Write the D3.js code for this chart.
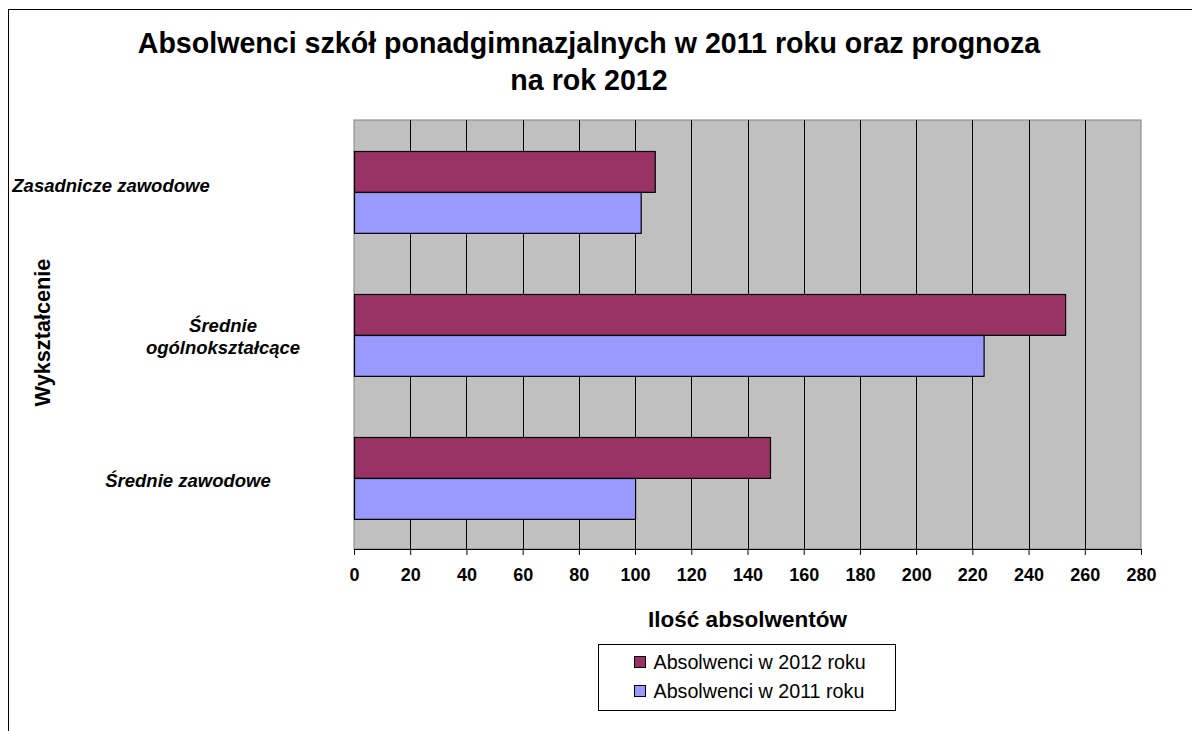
<!DOCTYPE html>
<html>
<head>
<meta charset="utf-8">
<script src="https://cdn.jsdelivr.net/npm/d3@7"></script>
<style>
    body { margin: 0; background: #fff; }
    text { font-family: "Liberation Sans", Arial, sans-serif; }
</style>
</head>
<body>
<div id="chart"></div>
<script>
// data
let categories = ["Zasadnicze zawodowe", "Średnie ogólnokształcące", "Średnie zawodowe"];
let seriesNames = ["Absolwenci w 2012 roku", "Absolwenci w 2011 roku"];
let values2012 = [107, 253, 148];
let values2011 = [102, 224, 100];
let xTicks = [0, 20, 40, 60, 80, 100, 120, 140, 160, 180, 200, 220, 240, 260, 280];

let colors = ["#993366", "#9999FF"];

// category labels as Excel laid them out (wrapped lines, centre x, vertical nudge)
let labelLines = [["Zasadnicze zawodowe"], ["Średnie", "ogólnokształcące"], ["Średnie zawodowe"]];
let labelCx = [111, 223, 188];
let labelDy = [-6, 2, 3];

let width = 1192, height = 731;
let margin = {top: 120, right: 51, bottom: 182, left: 354};
let innerW = width - margin.left - margin.right;
let innerH = height - margin.top - margin.bottom;

let svg = d3.select("#chart").append("svg")
    .attr("width", width)
    .attr("height", height);

// outer chart border (runs off the page)
svg.append("rect")
    .attr("x", 8.5).attr("y", 9.5)
    .attr("width", 1300).attr("height", 900)
    .attr("fill", "#fff")
    .attr("stroke", "#000");

// title
let title = svg.append("text")
    .attr("x", 589)
    .attr("text-anchor", "middle")
    .attr("font-size", "28.6px")
    .attr("font-weight", "bold");
title.append("tspan").attr("x", 589).attr("y", 53).text("Absolwenci szkół ponadgimnazjalnych w 2011 roku oraz prognoza");
title.append("tspan").attr("x", 589).attr("y", 90).text("na rok 2012");

let g = svg.append("g")
    .attr("transform", `translate(${margin.left}, ${margin.top})`);

// scales
let x = d3.scaleLinear()
    .domain([0, 280])
    .range([0, innerW]);

let y0 = d3.scaleBand()
    .domain(categories)
    .range([0, innerH])
    .padding(0);

let y1 = d3.scaleBand()
    .domain(seriesNames)
    .range([0, y0.bandwidth()])
    .paddingInner(0)
    .paddingOuter(0.75);

// plot background
g.append("rect")
    .attr("width", innerW)
    .attr("height", innerH)
    .attr("fill", "#C0C0C0")
    .attr("stroke", "#808080");

// vertical grid lines
g.selectAll(".grid")
    .data(xTicks.slice(1, -1))
    .enter()
    .append("line")
    .attr("class", "grid")
    .attr("x1", d => Math.round(x(d)) + 0.5)
    .attr("x2", d => Math.round(x(d)) + 0.5)
    .attr("y1", 0)
    .attr("y2", innerH)
    .attr("stroke", "#000");

// bars
let rows = categories.map((c, i) => ({cat: c, vals: [values2012[i], values2011[i]]}));

let groups = g.selectAll(".cat")
    .data(rows)
    .enter()
    .append("g")
    .attr("class", "cat")
    .attr("transform", d => `translate(0, ${y0(d.cat)})`);

groups.selectAll("rect")
    .data(d => d.vals.map((v, j) => ({series: seriesNames[j], value: v, j: j})))
    .enter()
    .append("rect")
    .attr("x", 0.5)
    .attr("y", d => Math.round(y1(d.series)) + 0.5)
    .attr("width", d => x(d.value))
    .attr("height", y1.bandwidth())
    .attr("fill", d => colors[d.j])
    .attr("stroke", "#000")
    .attr("stroke-width", 1.2);

// x axis
let xAxis = d3.axisBottom(x)
    .tickValues(xTicks)
    .tickSize(6)
    .tickPadding(13);

let xAxisGroup = g.append("g")
    .attr("class", "x-axis")
    .attr("transform", `translate(0, ${innerH})`)
    .call(xAxis);

xAxisGroup.select(".domain").attr("stroke", "#000");
xAxisGroup.selectAll(".tick line").attr("stroke", "#000");
xAxisGroup.selectAll(".tick text")
    .attr("font-family", "'Liberation Sans', Arial, sans-serif")
    .attr("font-size", "18px")
    .attr("font-weight", "bold")
    .attr("fill", "#000");

// category labels
labelLines.forEach((lines, i) => {
    let cy = y0(categories[i]) + y0.bandwidth() / 2 + margin.top + labelDy[i];
    let t = svg.append("text")
        .attr("text-anchor", "middle")
        .attr("font-size", "18.5px")
        .attr("font-weight", "bold")
        .attr("font-style", "italic");
    let lh = 22.5;
    lines.forEach((line, k) => {
        t.append("tspan")
            .attr("x", labelCx[i])
            .attr("y", cy - (lines.length - 1) * lh / 2 + k * lh)
            .attr("dy", "0.35em")
            .text(line);
    });
});

// axis titles
svg.append("text")
    .attr("x", margin.left + innerW / 2)
    .attr("y", 627)
    .attr("text-anchor", "middle")
    .attr("font-size", "22.5px")
    .attr("font-weight", "bold")
    .text("Ilość absolwentów");

svg.append("text")
    .attr("transform", `translate(50, ${margin.top + innerH / 2 - 2}) rotate(-90)`)
    .attr("text-anchor", "middle")
    .attr("font-size", "21.7px")
    .attr("font-weight", "bold")
    .text("Wykształcenie");

// legend
let legend = svg.append("g")
    .attr("transform", "translate(598.5, 644.5)");

legend.append("rect")
    .attr("width", 297)
    .attr("height", 66)
    .attr("fill", "#fff")
    .attr("stroke", "#000");

let items = legend.selectAll(".item")
    .data(seriesNames)
    .enter()
    .append("g")
    .attr("class", "item")
    .attr("transform", (d, i) => `translate(36, ${18 + i * 29})`);

items.append("rect")
    .attr("x", 0)
    .attr("y", -6)
    .attr("width", 11)
    .attr("height", 11)
    .attr("fill", (d, i) => colors[i])
    .attr("stroke", "#000");

items.append("text")
    .attr("x", 19)
    .attr("y", 0)
    .attr("dy", "0.35em")
    .attr("font-size", "19.7px")
    .text(d => d);
</script>
</body>
</html>
